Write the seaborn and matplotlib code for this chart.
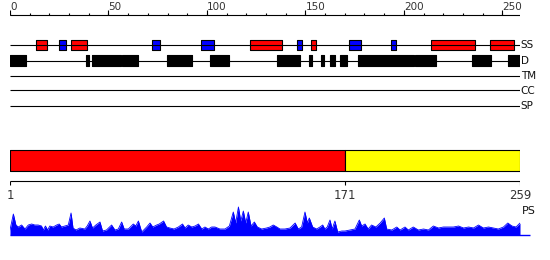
import matplotlib
matplotlib.use("Agg")
import matplotlib.pyplot as plt
import seaborn as sns
import pandas as pd

# ---------------- data ----------------
seq_len = 259
ruler_major = [0, 50, 100, 150, 200, 250]

track_names = ["SS", "D", "TM", "CC", "SP"]

helix_start = [13, 31, 122, 153, 214, 244]
helix_end = [19, 39, 138, 155.3, 236, 256]
strand_start = [25, 72, 97.2, 146, 172, 193.3]
strand_end = [28.3, 76, 103.8, 148.1, 178.1, 195.9]

dis_start = [0, 38.6, 41.6, 56.9, 79.7, 101.6, 135.6, 151.7, 157.8, 162.5, 167.6, 176.7, 205.7, 234.6, 252.9]
dis_end = [8.1, 40.1, 56.2, 64.8, 92.3, 111.0, 147.1, 153.4, 159.5, 165.1, 171.2, 205.2, 216.4, 244.1, 259]

domain_start = [1, 171]
domain_end = [170, 259]
domain_colors = ["#ff0000", "#ffff00"]

profile_pos = [0, 1.7, 3, 4.2, 5.9, 7.6, 9.3, 11, 12.6, 14.3, 16, 16.9, 18, 19.1, 20.2, 21.9,
               23.7, 25, 26.1, 27.9, 29.6, 31, 32, 33.5, 35.5, 38, 39.2, 40.6, 41.9, 43.6,
               45.7, 47, 49, 51.6, 53.3, 55, 56.7, 58, 60.1, 62.6, 63.9, 65.2, 66.9, 69.4,
               71.1, 72.5, 74.5, 75.8, 78, 79.5, 81.2, 83.3, 85.5, 87.6, 88.9, 90.5, 92.3,
               94, 95.7, 97.4, 99, 100.7, 102.4, 104.1, 106.6, 109.2, 111.4, 113.4, 114.6,
               116, 117.2, 118.5, 119.7, 121, 122.4, 124.1, 125.6, 127.8, 130.3, 132, 133.7,
               135.5, 137.1, 139.6, 142.2, 144.8, 146.4, 148.1, 149.8, 151, 152, 153.7, 155.7,
               157.4, 158.8, 159.9, 161.1, 162.5, 163.6, 165, 166.4, 168.5, 170.1, 172.7,
               175.2, 177.4, 178.6, 180.3, 181.9, 183.6, 185.8, 188, 190.1, 191.3, 193.9,
               196.4, 198.1, 200.6, 202.3, 204.8, 207.4, 210, 212.5, 215, 217.6, 220.1, 222.6,
               225.2, 227.8, 230.3, 232.9, 235.4, 237.9, 240.4, 243, 245.5, 248, 250.6, 252.8,
               254.9, 257, 259]
profile_val = [5, 21, 10, 8, 10, 6, 10, 11, 10, 10, 9, 5, 9, 5, 9, 8,
               10, 11, 8, 9, 10, 22, 7, 5, 7, 6, 9, 14, 7, 10,
               13, 4, 5, 10, 5, 6, 13, 6, 6, 11, 9, 14, 3, 8,
               12, 8, 10, 11, 14, 8, 7, 6, 8, 11, 7, 10, 8,
               9, 11, 6, 8, 6, 8, 8, 6, 6, 9, 23, 12,
               28, 14, 24, 12, 23, 9, 13, 8, 6, 7, 8, 10,
               8, 6, 6, 7, 12, 6, 8, 23, 12, 17, 8, 6,
               8, 10, 6, 8, 15, 6, 14, 3, 4, 4, 5,
               6, 15, 9, 11, 6, 10, 8, 12, 17, 6, 5,
               8, 5, 8, 5, 8, 5, 6, 5, 9, 7, 8, 8,
               8, 9, 7, 8, 7, 10, 7, 8, 7, 6, 8, 12,
               9, 8, 12]

# ---------------- figure ----------------
sns.set_style("white")
plt.rcParams["font.family"] = ["DejaVu Sans"]

W, H = 550, 260
fig = plt.figure(figsize=(W / 100, H / 100), dpi=100)
fig.patch.set_facecolor("white")
left = 10 / W
width = 510 / W
LW = 0.8
txt_gray = "#333333"

# ---- top: ruler + feature tracks (y in pixels from top) ----
ax = fig.add_axes([left, (H - 115) / H, width, 115 / H])
ax.set_xlim(0, seq_len)
ax.set_ylim(115, 0)
ax.axis("off")

ax.hlines(15, 0, seq_len, color="black", lw=LW)
for t in range(0, ruler_major[-1] + 1, 10):
    ax.vlines(t, 12.5, 15, color="black", lw=LW)
for t in ruler_major:
    ax.vlines(t, 9.5, 15, color="black", lw=LW)
    ax.text(t, 10, str(t), ha="left", va="baseline", fontsize=7.5, color=txt_gray)

track_y = [45, 60.5, 75.5, 90, 105.5]
for name, y in zip(track_names, track_y):
    ax.hlines(y, 0, seq_len, color="black", lw=LW)
    ax.text(seq_len + 0.3, y + 0.5, name, ha="left", va="center", fontsize=7.5, color="#111111")

ss_y = track_y[0]
ax.broken_barh([(s, e - s) for s, e in zip(helix_start, helix_end)], (ss_y - 4.7, 9.7),
               facecolor="#ff0000", edgecolor="black", lw=LW)
ax.broken_barh([(s, e - s) for s, e in zip(strand_start, strand_end)], (ss_y - 4.7, 9.7),
               facecolor="#0000ff", edgecolor="black", lw=LW)
d_y = track_y[1]
ax.broken_barh([(s, e - s) for s, e in zip(dis_start, dis_end)], (d_y - 5.2, 10.4),
               facecolor="black", edgecolor="black", lw=LW)

# ---- middle: domain bar + its ruler ----
axm = fig.add_axes([left, (H - 200) / H, width, 55 / H])
axm.set_xlim(0, seq_len)
axm.set_ylim(200, 145)
axm.axis("off")
axm.broken_barh([(s - 1, e - s + 1) for s, e in zip(domain_start, domain_end)], (150.3, 20.2),
                facecolor=domain_colors, edgecolor="black", lw=LW)
axm.hlines(180.5, 0, seq_len, color="black", lw=LW)
dom_ticks = [s - 1 for s in domain_start] + [domain_end[-1]]
dom_labels = [str(s) for s in domain_start] + [str(domain_end[-1])]
for t, lab in zip(dom_ticks, dom_labels):
    axm.vlines(t, 180.5, 185, color="black", lw=LW)
    axm.text(t, 195.5, lab, ha="center", va="center", fontsize=8.5, color=txt_gray)

# ---- bottom: PS profile ----
axp = fig.add_axes([left, (H - 235) / H, width, 35 / H])
axp.set_xlim(0, seq_len)
axp.set_ylim(0, 35)
axp.axis("off")
prof = pd.DataFrame({"pos": profile_pos, "val": profile_val})
axp.fill_between(prof["pos"], prof["val"], 0, color="#0000ff", lw=0)
sns.lineplot(data=prof, x="pos", y="val", ax=axp, color="#0000ff", lw=0.6)
axp.hlines(0.3, 0, seq_len + 5, color="#0000ff", lw=1.0, clip_on=False)
axp.text(seq_len + 0.8, 24, "PS", ha="left", va="center", fontsize=8, color="#111111")

fig.savefig("out.png", dpi=100, facecolor="white")
